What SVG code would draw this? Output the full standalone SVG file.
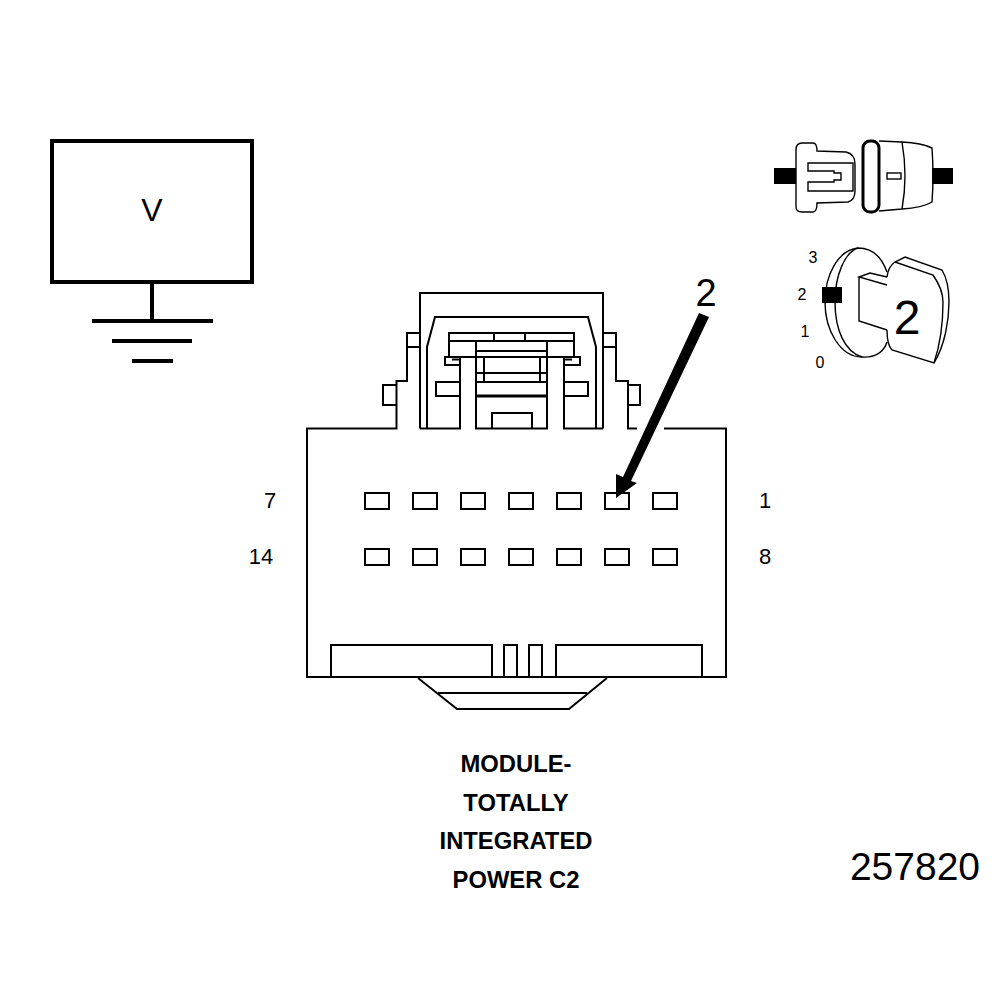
<svg xmlns="http://www.w3.org/2000/svg" width="1008" height="1000" viewBox="0 0 1008 1000">
<style>
.l{fill:none;stroke:#000;stroke-width:2}
.m{fill:none;stroke:#000;stroke-width:1.4}
.g{fill:none;stroke:#000;stroke-width:4}
.pin{fill:#fff;stroke:#000;stroke-width:2}
text{font-family:"Liberation Sans",Arial,sans-serif;fill:#000;text-anchor:middle}
.b{font-weight:bold;font-size:23.800px}
.n{font-size:22px}
.k{font-size:16px}
</style>
<rect width="1008" height="1000" fill="#fff"/>
<g id="voltmeter">
<rect class="g" x="52" y="141" width="200" height="141"/>
<path class="g" d="M152 282V321M92 321H213M112 341H192M132 361H173"/>
<text x="152" y="221" font-size="32">V</text>
</g>
<g id="connector-body">
<path class="l" d="M637 428.500H628V381H616V333H603M664 428.500H726V677H307V428.500H396.500V381H407V333H420"/>
<path class="l" d="M407 347H420M616 347H603M396 385H383V405H396M628 385H640V405H628"/>
<path class="l" d="M331 677V645H492V677M504 677V645H517V677M529 677V645H542V677M556 677V645H702V677"/>
<path class="l" d="M418 678L457 709H569L607 678M438 693H587"/>
</g>
<g id="connector-latch">
<path class="l" d="M420 428.500V293H603V428.500M427 428.500V347L435 317H588L596 347V428.500"/>
<path class="l" d="M420 428.500H460V357M476 341V428.500H547V341M564 357V428.500H603"/>
<path class="l" d="M449 357V333H574V357ZM449 341H574M494 333V341M525 333V341M476 351H547"/>
<path class="l" d="M460 357H445V365H460M564 357H580V365H564M452 359.500H460M564 359.500H572"/>
<path class="l" d="M460 382H436V396H460M564 382H588V396H564"/>
<path class="l" d="M484 357V382M540 357V382M476 373H547M476 382H547"/>
<path class="g" d="M476 396H547" style="stroke-width:3"/>
<path class="l" d="M492 428V413H532V428"/>
</g>
<g id="pins">
<rect class="pin" x="365" y="493" width="24" height="16"/><rect class="pin" x="413" y="493" width="24" height="16"/><rect class="pin" x="461" y="493" width="24" height="16"/><rect class="pin" x="509" y="493" width="24" height="16"/><rect class="pin" x="557" y="493" width="24" height="16"/><rect class="pin" x="605" y="493" width="24" height="16"/><rect class="pin" x="653" y="493" width="24" height="16"/>
<rect class="pin" x="365" y="549" width="24" height="16"/><rect class="pin" x="413" y="549" width="24" height="16"/><rect class="pin" x="461" y="549" width="24" height="16"/><rect class="pin" x="509" y="549" width="24" height="16"/><rect class="pin" x="557" y="549" width="24" height="16"/><rect class="pin" x="605" y="549" width="24" height="16"/><rect class="pin" x="653" y="549" width="24" height="16"/>
</g>
<g id="pin-labels">
<text class="n" x="270" y="508">7</text>
<text class="n" x="261" y="564">14</text>
<text class="n" x="765" y="508">1</text>
<text class="n" x="765" y="564">8</text>
</g>
<g id="callout-arrow">
<path d="M699 313L709 317L631 481L637 483L616 498L616 474L623 477Z" fill="#000"/>
<text x="706" y="306" font-size="38">2</text>
</g>
<g id="connector-icon">
<path d="M774 168H796V184H774ZM932 168H953V184H932Z" fill="#000"/>
<path class="m" d="M796 150Q796 143 802 143H813Q817 143 817 151L846 152Q855 154 855 164V191Q855 200 848 202L817 203Q817 212 813 212H802Q796 212 796 207Z"/>
<path class="m" d="M808 163V171H834V173H841V180H834V182H808V191H853V163Z"/>
<rect x="863" y="141" width="16" height="71" rx="7" fill="none" stroke="#000" stroke-width="3"/>
<path class="m" d="M879 141L902 142Q922 143 932 148Q934 176 932 202Q922 208 902 209L879 211M902 142Q908 176 902 209"/>
<rect class="m" x="887" y="173" width="14" height="6"/>
</g>
<g id="key-icon">
<path class="m" d="M887 272C880 252 868 248 858 248C838 250 825 275 825 302C825 330 840 357 862 357C875 358 884 352 887 342"/>
<path class="m" d="M858 248C845 252 835 275 835 302C835 330 845 352 862 357"/>
<path class="m" d="M887 285L859 277L870 273L887 277M859 277V321L887 330"/>
<path class="m" d="M887 277C888 268 892 264 895 262L905 257L942 270C948 280 949 292 949 302C949 320 945 345 934 363L892 350C889 347 887 342 887 330"/>
<path class="m" d="M895 262L933 275C940 285 943 295 943 302C943 325 940 345 934 363"/>
<rect x="822" y="287" width="20" height="16" fill="#000"/>
<text x="907" y="334" font-size="48">2</text>
<text class="k" x="813" y="263">3</text>
<text class="k" x="802" y="300">2</text>
<text class="k" x="805" y="337">1</text>
<text class="k" x="820" y="368">0</text>
</g>
<g id="title">
<text class="b" x="516" y="772">MODULE-</text>
<text class="b" x="516" y="811">TOTALLY</text>
<text class="b" x="516" y="849">INTEGRATED</text>
<text class="b" x="516" y="888">POWER C2</text>
</g>
<text x="915" y="880" font-size="39">257820</text>
</svg>
